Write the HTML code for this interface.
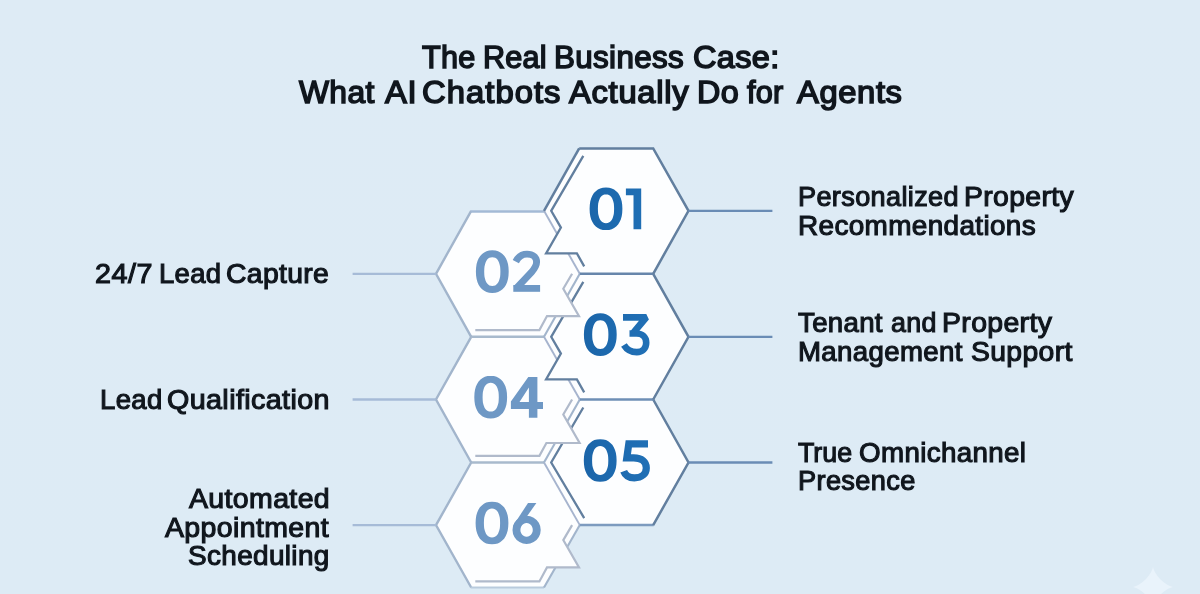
<!DOCTYPE html>
<html><head><meta charset="utf-8"><title>AI Chatbots for Agents</title>
<style>
html,body{margin:0;padding:0;}
body{width:1200px;height:594px;overflow:hidden;position:relative;background:#deebf5;font-family:"Liberation Sans",sans-serif;}
#bg{position:absolute;left:0;top:0;width:1200px;height:594px;background:linear-gradient(180deg,#deebf5 0%,#ddebf5 100%);}
.w{position:absolute;will-change:transform;}
</style></head>
<body>
<div id="bg"></div>
<svg width="1200" height="594" viewBox="0 0 1200 594" style="position:absolute;left:0;top:0">
<defs><linearGradient id="gd" gradientUnits="userSpaceOnUse" x1="585" y1="0" x2="650" y2="0"><stop offset="0" stop-color="#1b65a9"/><stop offset="1" stop-color="#2070b6"/></linearGradient></defs>
<polygon points="579.2,148.4 653.2,148.4 688.5,210.8 653.2,273.8 579.8,273.8 544,210.8" fill="#fdfeff"/>
<polygon points="471.2,210.8 544,210.8 579.8,273.8 544,336.8 471.2,336.8 436,273.8" fill="#fdfeff"/>
<polygon points="579.8,273.8 653.2,273.8 688.5,336.8 653.2,399.5 579.8,399.5 544,336.8" fill="#fdfeff"/>
<polygon points="471.2,336.8 544,336.8 579.8,399.5 544,462.5 471.2,462.5 436,399.5" fill="#fdfeff"/>
<polygon points="579.8,399.5 653.2,399.5 688.5,462.5 653.2,525.1 579.8,525.1 544,462.5" fill="#fdfeff"/>
<polygon points="471.2,462.5 544,462.5 579.8,525.1 544,587.5 471.2,587.5 436,525.1" fill="#fdfeff"/>
<polyline points="471.2,462.5 436,525.1 471.2,587.5" fill="none" stroke="#a2b5cc" stroke-width="2.4" stroke-linejoin="miter" stroke-linecap="butt" />
<polyline points="470.7,462.5 544,462.5" fill="none" stroke="#a8bacd" stroke-width="2.5" stroke-linejoin="miter" stroke-linecap="butt" />
<polyline points="470.7,587.5 544,587.5" fill="none" stroke="#b9cbdd" stroke-width="2.0" stroke-linejoin="miter" stroke-linecap="butt" />
<polyline points="579.8,525.1 544,587.5" fill="none" stroke="#a2b5cc" stroke-width="2.1" stroke-linejoin="miter" stroke-linecap="butt" />
<polygon points="563.3,540.1 579,567.4 547,567.4" fill="#fdfeff"/>
<polyline points="572.1,525.1 563.3,540.1 579,567.4 547,567.4 539.4,581.4 475.3,581.4" fill="none" stroke="#b0bacb" stroke-width="2.2" stroke-linejoin="miter" stroke-linecap="butt" />
<polyline points="544,462.5 579.8,525.1" fill="none" stroke="#a6b4ce" stroke-width="1.9" stroke-linejoin="miter" stroke-linecap="butt" />
<polyline points="579.8,399.5 544,462.5" fill="none" stroke="#a2b5cc" stroke-width="2.1" stroke-linejoin="miter" stroke-linecap="butt" />
<polyline points="653.7,525.1 579.8,525.1" fill="none" stroke="#7d9bbf" stroke-width="2.5" stroke-linejoin="miter" stroke-linecap="butt" />
<polyline points="653.2,399.5 688.5,462.5 653.2,525.1" fill="none" stroke="#627f9f" stroke-width="2.5" stroke-linejoin="miter" stroke-linecap="butt" />
<polyline points="583.3,407.5 551.2,462.5 584.2,518.1" fill="none" stroke="#627f9f" stroke-width="2.3" stroke-linejoin="miter" stroke-linecap="butt" />
<polyline points="471.2,336.8 436,399.5 471.2,462.5" fill="none" stroke="#a2b5cc" stroke-width="2.4" stroke-linejoin="miter" stroke-linecap="butt" />
<polyline points="470.7,336.8 544,336.8" fill="none" stroke="#a8bacd" stroke-width="2.5" stroke-linejoin="miter" stroke-linecap="butt" />
<polygon points="563.3,414.5 579.6,443 546.4,443" fill="#fdfeff"/>
<polyline points="572.1,399.5 563.3,414.5 579.6,443 546.4,443 539.4,455.8 475.3,455.8" fill="none" stroke="#b0bacb" stroke-width="2.2" stroke-linejoin="miter" stroke-linecap="butt" />
<polyline points="544,336.8 579.8,399.5" fill="none" stroke="#a6b4ce" stroke-width="1.9" stroke-linejoin="miter" stroke-linecap="butt" />
<polyline points="579.8,273.8 544,336.8" fill="none" stroke="#a2b5cc" stroke-width="2.1" stroke-linejoin="miter" stroke-linecap="butt" />
<polyline points="653.7,399.5 579.8,399.5" fill="none" stroke="#6e8fb6" stroke-width="2.5" stroke-linejoin="miter" stroke-linecap="butt" />
<polyline points="653.2,273.8 688.5,336.8 653.2,399.5" fill="none" stroke="#627f9f" stroke-width="2.5" stroke-linejoin="miter" stroke-linecap="butt" />
<polygon points="560.9,353.6 546.1,379.4 576.9,379.4" fill="#fdfeff"/>
<polyline points="583.3,281.8 551.2,336.8 560.9,353.6 546.1,379.4 576.9,379.4 584.2,392.4" fill="none" stroke="#627f9f" stroke-width="2.3" stroke-linejoin="miter" stroke-linecap="butt" />
<polyline points="471.2,210.8 436,273.8 471.2,336.8" fill="none" stroke="#a2b5cc" stroke-width="2.4" stroke-linejoin="miter" stroke-linecap="butt" />
<polyline points="470.7,211.5 544,211.5" fill="none" stroke="#a3bad6" stroke-width="2.5" stroke-linejoin="miter" stroke-linecap="butt" />
<polygon points="563.3,288.8 579,316.1 547,316.1" fill="#fdfeff"/>
<polyline points="572.1,273.8 563.3,288.8 579,316.1 547,316.1 539.4,330.1 475.3,330.1" fill="none" stroke="#b0bacb" stroke-width="2.2" stroke-linejoin="miter" stroke-linecap="butt" />
<polyline points="544,210.8 579.8,273.8" fill="none" stroke="#a6b4ce" stroke-width="1.9" stroke-linejoin="miter" stroke-linecap="butt" />
<polyline points="579.2,148.4 544,210.8" fill="none" stroke="#627f9f" stroke-width="2.5" stroke-linejoin="miter" stroke-linecap="butt" />
<polyline points="653.7,273.8 579.8,273.8" fill="none" stroke="#6786ab" stroke-width="2.5" stroke-linejoin="miter" stroke-linecap="butt" />
<polyline points="579.2,148.4 653.2,148.4 688.5,210.8 653.2,273.8" fill="none" stroke="#627f9f" stroke-width="2.5" stroke-linejoin="miter" stroke-linecap="butt" />
<polygon points="560.9,227.6 546.1,253.4 576.9,253.4" fill="#fdfeff"/>
<polyline points="583.3,155.8 551.2,210.8 560.9,227.6 546.1,253.4 576.9,253.4 584.2,266.4" fill="none" stroke="#627f9f" stroke-width="2.3" stroke-linejoin="miter" stroke-linecap="butt" />
<line x1="688.5" y1="210.8" x2="772.4" y2="210.8" stroke="#6a8cb5" stroke-width="2.3"/>
<line x1="688.5" y1="336.8" x2="772.4" y2="336.8" stroke="#6a8cb5" stroke-width="2.3"/>
<line x1="688.5" y1="462.5" x2="772.4" y2="462.5" stroke="#6a8cb5" stroke-width="2.3"/>
<line x1="352.6" y1="273.8" x2="436.0" y2="273.8" stroke="#a6bbd7" stroke-width="2.3"/>
<line x1="352.6" y1="399.5" x2="436.0" y2="399.5" stroke="#a6bbd7" stroke-width="2.3"/>
<line x1="352.6" y1="525.1" x2="436.0" y2="525.1" stroke="#a6bbd7" stroke-width="2.3"/>
<path fill="url(#gd)" fill-rule="evenodd" d="M622.4,208.8 L622.2,212.9 L621.7,216.3 L620.8,219.4 L619.6,222.1 L618.1,224.5 L616.2,226.4 L614.1,228 L611.8,229.2 L609.2,229.9 L606,230.1 L602.8,229.9 L600.2,229.2 L597.9,228 L595.8,226.4 L593.9,224.5 L592.4,222.1 L591.2,219.4 L590.3,216.3 L589.8,212.9 L589.6,208.8 L589.8,204.7 L590.3,201.3 L591.2,198.2 L592.4,195.5 L593.9,193.1 L595.8,191.2 L597.9,189.6 L600.2,188.4 L602.8,187.7 L606,187.5 L609.2,187.7 L611.8,188.4 L614.1,189.6 L616.2,191.2 L618.1,193.1 L619.6,195.5 L620.8,198.2 L621.7,201.3 L622.2,204.7 Z M614,205.9 L613.8,203.6 L613.3,201.6 L612.7,199.7 L612,198.1 L611.1,196.8 L610.1,195.8 L608.9,195 L607.6,194.6 L606,194.4 L604.4,194.6 L603.1,195 L601.9,195.8 L600.9,196.8 L600,198.1 L599.3,199.7 L598.7,201.6 L598.2,203.6 L598,205.9 L597.9,208.8 L598,211.7 L598.2,214 L598.7,216 L599.3,217.9 L600,219.5 L600.9,220.8 L601.9,221.8 L603.1,222.6 L604.4,223 L606,223.2 L607.6,223 L608.9,222.6 L610.1,221.8 L611.1,220.8 L612,219.5 L612.7,217.9 L613.3,216 L613.8,214 L614,211.7 L614.1,208.8 Z"/>
<polygon fill="url(#gd)" points="625.9,188.5 641.2,188.5 641.2,229.3 633.5,229.3 633.5,195.3 625.9,195.3"/>
<path fill="#6e98c5" fill-rule="evenodd" d="M508.7,271.6 L508.5,275.7 L508,279.1 L507.1,282.2 L505.9,284.9 L504.4,287.3 L502.5,289.2 L500.4,290.8 L498.1,292 L495.5,292.7 L492.3,292.9 L489.1,292.7 L486.5,292 L484.2,290.8 L482.1,289.2 L480.2,287.3 L478.7,284.9 L477.5,282.2 L476.6,279.1 L476.1,275.7 L475.9,271.6 L476.1,267.5 L476.6,264.1 L477.5,261 L478.7,258.3 L480.2,255.9 L482.1,254 L484.2,252.4 L486.5,251.2 L489.1,250.5 L492.3,250.3 L495.5,250.5 L498.1,251.2 L500.4,252.4 L502.5,254 L504.4,255.9 L505.9,258.3 L507.1,261 L508,264.1 L508.5,267.5 Z M500.3,268.7 L500.1,266.4 L499.6,264.4 L499,262.5 L498.3,260.9 L497.4,259.6 L496.4,258.6 L495.2,257.8 L493.9,257.4 L492.3,257.2 L490.7,257.4 L489.4,257.8 L488.2,258.6 L487.2,259.6 L486.3,260.9 L485.6,262.5 L485,264.4 L484.5,266.4 L484.3,268.7 L484.2,271.6 L484.3,274.5 L484.5,276.8 L485,278.8 L485.6,280.7 L486.3,282.3 L487.2,283.6 L488.2,284.6 L489.4,285.4 L490.7,285.8 L492.3,286 L493.9,285.8 L495.2,285.4 L496.4,284.6 L497.4,283.6 L498.3,282.3 L499,280.7 L499.6,278.8 L500.1,276.8 L500.3,274.5 L500.4,271.6 Z"/>
<path d="M515.8,261.6 C518.1,257 522,254.1 527,254.1 C533,254.1 536.6,257.4 536.6,262 C536.6,265.8 534.8,268.4 531.3,272.5 L516,288.6" fill="none" stroke="#6e98c5" stroke-width="6.9"/><rect x="513.3" y="285" width="26.8" height="6.8" fill="#6e98c5"/>
<path fill="url(#gd)" fill-rule="evenodd" d="M616.7,334.6 L616.5,338.7 L616,342.1 L615.1,345.2 L613.9,347.9 L612.4,350.3 L610.5,352.2 L608.4,353.8 L606.1,355 L603.5,355.7 L600.3,355.9 L597.1,355.7 L594.5,355 L592.2,353.8 L590.1,352.2 L588.2,350.3 L586.7,347.9 L585.5,345.2 L584.6,342.1 L584.1,338.7 L583.9,334.6 L584.1,330.5 L584.6,327.1 L585.5,324 L586.7,321.3 L588.2,318.9 L590.1,317 L592.2,315.4 L594.5,314.2 L597.1,313.5 L600.3,313.3 L603.5,313.5 L606.1,314.2 L608.4,315.4 L610.5,317 L612.4,318.9 L613.9,321.3 L615.1,324 L616,327.1 L616.5,330.5 Z M608.3,331.7 L608.1,329.4 L607.6,327.4 L607,325.5 L606.3,323.9 L605.4,322.6 L604.4,321.6 L603.2,320.8 L601.9,320.4 L600.3,320.2 L598.7,320.4 L597.4,320.8 L596.2,321.6 L595.2,322.6 L594.3,323.9 L593.6,325.5 L593,327.4 L592.5,329.4 L592.3,331.7 L592.2,334.6 L592.3,337.5 L592.5,339.8 L593,341.8 L593.6,343.7 L594.3,345.3 L595.2,346.6 L596.2,347.6 L597.4,348.4 L598.7,348.8 L600.3,349 L601.9,348.8 L603.2,348.4 L604.4,347.6 L605.4,346.6 L606.3,345.3 L607,343.7 L607.6,341.8 L608.1,339.8 L608.3,337.5 L608.4,334.6 Z"/>
<path d="M623,317.3 L646.3,317.3 L633.5,332.6" fill="none" stroke="url(#gd)" stroke-width="6.8" stroke-linejoin="bevel"/><path d="M629.5,333.5 L636.5,333.5 C642.5,333.5 646.2,337.5 646.2,342.7 C646.2,348.5 642.2,352.1 636.8,352.1 C631.3,352.1 626.8,349.6 623.9,344.9" fill="none" stroke="url(#gd)" stroke-width="6.6"/>
<path fill="#6e98c5" fill-rule="evenodd" d="M507.1,397.2 L506.9,401.3 L506.4,404.7 L505.5,407.8 L504.3,410.5 L502.8,412.9 L500.9,414.8 L498.8,416.4 L496.5,417.6 L493.9,418.3 L490.7,418.5 L487.5,418.3 L484.9,417.6 L482.6,416.4 L480.5,414.8 L478.6,412.9 L477.1,410.5 L475.9,407.8 L475,404.7 L474.5,401.3 L474.3,397.2 L474.5,393.1 L475,389.7 L475.9,386.6 L477.1,383.9 L478.6,381.5 L480.5,379.6 L482.6,378 L484.9,376.8 L487.5,376.1 L490.7,375.9 L493.9,376.1 L496.5,376.8 L498.8,378 L500.9,379.6 L502.8,381.5 L504.3,383.9 L505.5,386.6 L506.4,389.7 L506.9,393.1 Z M498.7,394.3 L498.5,392 L498,390 L497.4,388.1 L496.7,386.5 L495.8,385.2 L494.8,384.2 L493.6,383.4 L492.3,383 L490.7,382.8 L489.1,383 L487.8,383.4 L486.6,384.2 L485.6,385.2 L484.7,386.5 L484,388.1 L483.4,390 L482.9,392 L482.7,394.3 L482.6,397.2 L482.7,400.1 L482.9,402.4 L483.4,404.4 L484,406.3 L484.7,407.9 L485.6,409.2 L486.6,410.2 L487.8,411 L489.1,411.4 L490.7,411.6 L492.3,411.4 L493.6,411 L494.8,410.2 L495.8,409.2 L496.7,407.9 L497.4,406.3 L498,404.4 L498.5,402.4 L498.7,400.1 L498.8,397.2 Z"/>
<path d="M537.4,376.9 L528.3,376.9 L510.9,401.5 L510.9,408.9 L528.9,408.9 L528.9,417.8 L537.4,417.8 L537.4,408.9 L543,408.9 L543,401.9 L537.4,401.9 Z M528.9,387.4 L519.5,401.9 L528.9,401.9 Z" fill="#6e98c5" fill-rule="evenodd"/>
<path fill="url(#gd)" fill-rule="evenodd" d="M616.6,460.5 L616.4,464.6 L615.9,468 L615,471.1 L613.8,473.8 L612.3,476.2 L610.4,478.1 L608.3,479.7 L606,480.9 L603.4,481.6 L600.2,481.8 L597,481.6 L594.4,480.9 L592.1,479.7 L590,478.1 L588.1,476.2 L586.6,473.8 L585.4,471.1 L584.5,468 L584,464.6 L583.8,460.5 L584,456.4 L584.5,453 L585.4,449.9 L586.6,447.2 L588.1,444.8 L590,442.9 L592.1,441.3 L594.4,440.1 L597,439.4 L600.2,439.2 L603.4,439.4 L606,440.1 L608.3,441.3 L610.4,442.9 L612.3,444.8 L613.8,447.2 L615,449.9 L615.9,453 L616.4,456.4 Z M608.2,457.6 L608,455.3 L607.5,453.3 L606.9,451.4 L606.2,449.8 L605.3,448.5 L604.3,447.5 L603.1,446.7 L601.8,446.3 L600.2,446.1 L598.6,446.3 L597.3,446.7 L596.1,447.5 L595.1,448.5 L594.2,449.8 L593.5,451.4 L592.9,453.3 L592.4,455.3 L592.2,457.6 L592.1,460.5 L592.2,463.4 L592.4,465.7 L592.9,467.7 L593.5,469.6 L594.2,471.2 L595.1,472.5 L596.1,473.5 L597.3,474.3 L598.6,474.7 L600.2,474.9 L601.8,474.7 L603.1,474.3 L604.3,473.5 L605.3,472.5 L606.2,471.2 L606.9,469.6 L607.5,467.7 L608,465.7 L608.2,463.4 L608.3,460.5 Z"/>
<path d="M648,443.8 L628.8,443.8 L626.8,457.9 L633.7,457.9 C642,457.9 646.3,462.3 646.3,467.9 C646.3,473.9 641.6,477.8 634.4,477.8 C629.2,477.8 625.4,475.8 623.7,471.2" fill="none" stroke="url(#gd)" stroke-width="7.2" stroke-linejoin="miter" stroke-miterlimit="10"/>
<path fill="#6e98c5" fill-rule="evenodd" d="M508.4,523 L508.2,527.1 L507.7,530.5 L506.8,533.6 L505.6,536.3 L504.1,538.7 L502.2,540.6 L500.1,542.2 L497.8,543.4 L495.2,544.1 L492,544.3 L488.8,544.1 L486.2,543.4 L483.9,542.2 L481.8,540.6 L479.9,538.7 L478.4,536.3 L477.2,533.6 L476.3,530.5 L475.8,527.1 L475.6,523 L475.8,518.9 L476.3,515.5 L477.2,512.4 L478.4,509.7 L479.9,507.3 L481.8,505.4 L483.9,503.8 L486.2,502.6 L488.8,501.9 L492,501.7 L495.2,501.9 L497.8,502.6 L500.1,503.8 L502.2,505.4 L504.1,507.3 L505.6,509.7 L506.8,512.4 L507.7,515.5 L508.2,518.9 Z M500,520.1 L499.8,517.8 L499.3,515.8 L498.7,513.9 L498,512.3 L497.1,511 L496.1,510 L494.9,509.2 L493.6,508.8 L492,508.6 L490.4,508.8 L489.1,509.2 L487.9,510 L486.9,511 L486,512.3 L485.3,513.9 L484.7,515.8 L484.2,517.8 L484,520.1 L483.9,523 L484,525.9 L484.2,528.2 L484.7,530.2 L485.3,532.1 L486,533.7 L486.9,535 L487.9,536 L489.1,536.8 L490.4,537.2 L492,537.4 L493.6,537.2 L494.9,536.8 L496.1,536 L497.1,535 L498,533.7 L498.7,532.1 L499.3,530.2 L499.8,528.2 L500,525.9 L500.1,523 Z"/>
<path d="M526.6,515.8 a14.1,14.1 0 1 0 0.01,0 Z M526.6,523.1 a6.2,6.8 0 1 1 -0.01,0 Z" fill="#6e98c5" fill-rule="evenodd"/><polygon fill="#6e98c5" points="528,503 536.4,503 521.9,523.4 513,525.9"/>
<polygon points="1173.3,587 1172.8,587.1 1171.4,587.4 1169.2,588.3 1166.5,589.8 1163.5,591.9 1160.5,594.5 1157.9,597.5 1155.8,600.5 1154.3,603.2 1153.4,605.4 1153.1,606.8 1153,607.3 1152.9,606.8 1152.6,605.4 1151.7,603.2 1150.2,600.5 1148.1,597.5 1145.5,594.5 1142.5,591.9 1139.5,589.8 1136.8,588.3 1134.6,587.4 1133.2,587.1 1132.7,587 1133.2,586.9 1134.6,586.6 1136.8,585.7 1139.5,584.2 1142.5,582.1 1145.5,579.5 1148.1,576.5 1150.2,573.5 1151.7,570.8 1152.6,568.6 1152.9,567.2 1153,566.7 1153.1,567.2 1153.4,568.6 1154.3,570.8 1155.8,573.5 1157.9,576.5 1160.5,579.5 1163.5,582.1 1166.5,584.2 1169.2,585.7 1171.4,586.6 1172.8,586.9" fill="#e9f3fb"/>
</svg>
<div class="w" style="left:421.70px;top:42.00px;font-size:30.6px;line-height:30.6px;font-weight:normal;letter-spacing:0.250px;white-space:nowrap;color:#10161d;-webkit-text-stroke:1.5px #10161d;">The</div>
<div class="w" style="left:482.95px;top:42.00px;font-size:30.6px;line-height:30.6px;font-weight:normal;letter-spacing:0.183px;white-space:nowrap;color:#10161d;-webkit-text-stroke:1.5px #10161d;">Real</div>
<div class="w" style="left:554.01px;top:42.00px;transform:scaleX(1.0245);transform-origin:0 0;font-size:30.6px;line-height:30.6px;font-weight:normal;letter-spacing:0.350px;white-space:nowrap;color:#10161d;-webkit-text-stroke:1.5px #10161d;">Business</div>
<div class="w" style="left:692.50px;top:42.00px;transform:scaleX(1.0604);transform-origin:0 0;font-size:30.6px;line-height:30.6px;font-weight:normal;letter-spacing:0.350px;white-space:nowrap;color:#10161d;-webkit-text-stroke:1.5px #10161d;">Case:</div>
<div class="w" style="left:299.08px;top:77.00px;transform:scaleX(1.0393);transform-origin:0 0;font-size:30.6px;line-height:30.6px;font-weight:normal;letter-spacing:0.350px;white-space:nowrap;color:#10161d;-webkit-text-stroke:1.5px #10161d;">What</div>
<div class="w" style="left:384.77px;top:77.00px;transform:scaleX(1.0700);transform-origin:0 0;font-size:30.6px;line-height:30.6px;font-weight:normal;letter-spacing:0.568px;white-space:nowrap;color:#10161d;-webkit-text-stroke:1.5px #10161d;">AI</div>
<div class="w" style="left:421.70px;top:77.00px;transform:scaleX(1.0700);transform-origin:0 0;font-size:30.6px;line-height:30.6px;font-weight:normal;letter-spacing:0.996px;white-space:nowrap;color:#10161d;-webkit-text-stroke:1.5px #10161d;">Chatbots</div>
<div class="w" style="left:569.07px;top:77.00px;transform:scaleX(1.0700);transform-origin:0 0;font-size:30.6px;line-height:30.6px;font-weight:normal;letter-spacing:0.664px;white-space:nowrap;color:#10161d;-webkit-text-stroke:1.5px #10161d;">Actually</div>
<div class="w" style="left:696.95px;top:77.00px;transform:scaleX(1.0566);transform-origin:0 0;font-size:30.6px;line-height:30.6px;font-weight:normal;letter-spacing:0.350px;white-space:nowrap;color:#10161d;-webkit-text-stroke:1.5px #10161d;">Do</div>
<div class="w" style="left:747.45px;top:77.00px;font-size:30.6px;line-height:30.6px;font-weight:normal;letter-spacing:0.275px;white-space:nowrap;color:#10161d;-webkit-text-stroke:1.5px #10161d;">for</div>
<div class="w" style="left:797.37px;top:77.00px;transform:scaleX(1.0700);transform-origin:0 0;font-size:30.6px;line-height:30.6px;font-weight:normal;letter-spacing:0.570px;white-space:nowrap;color:#10161d;-webkit-text-stroke:1.5px #10161d;">Agents</div>
<div class="w" style="left:797.63px;top:184.00px;transform:scaleX(1.0112);transform-origin:0 0;font-size:26.8px;line-height:26.8px;font-weight:normal;letter-spacing:0.350px;white-space:nowrap;color:#10161d;-webkit-text-stroke:1.1px #10161d;">Personalized</div>
<div class="w" style="left:964.25px;top:184.00px;transform:scaleX(1.0574);transform-origin:0 0;font-size:26.8px;line-height:26.8px;font-weight:normal;letter-spacing:0.350px;white-space:nowrap;color:#10161d;-webkit-text-stroke:1.1px #10161d;">Property</div>
<div class="w" style="left:797.68px;top:213.00px;transform:scaleX(1.0409);transform-origin:0 0;font-size:26.8px;line-height:26.8px;font-weight:normal;letter-spacing:0.350px;white-space:nowrap;color:#10161d;-webkit-text-stroke:1.1px #10161d;">Recommendations</div>
<div class="w" style="left:798.20px;top:310.00px;transform:scaleX(1.0279);transform-origin:0 0;font-size:26.8px;line-height:26.8px;font-weight:normal;letter-spacing:0.350px;white-space:nowrap;color:#10161d;-webkit-text-stroke:1.1px #10161d;">Tenant</div>
<div class="w" style="left:890.70px;top:310.00px;transform:scaleX(1.0023);transform-origin:0 0;font-size:26.8px;line-height:26.8px;font-weight:normal;letter-spacing:0.350px;white-space:nowrap;color:#10161d;-webkit-text-stroke:1.1px #10161d;">and</div>
<div class="w" style="left:941.85px;top:310.00px;transform:scaleX(1.0594);transform-origin:0 0;font-size:26.8px;line-height:26.8px;font-weight:normal;letter-spacing:0.350px;white-space:nowrap;color:#10161d;-webkit-text-stroke:1.1px #10161d;">Property</div>
<div class="w" style="left:797.70px;top:339.00px;transform:scaleX(1.0307);transform-origin:0 0;font-size:26.8px;line-height:26.8px;font-weight:normal;letter-spacing:0.350px;white-space:nowrap;color:#10161d;-webkit-text-stroke:1.1px #10161d;">Management</div>
<div class="w" style="left:970.91px;top:339.00px;transform:scaleX(1.0554);transform-origin:0 0;font-size:26.8px;line-height:26.8px;font-weight:normal;letter-spacing:0.350px;white-space:nowrap;color:#10161d;-webkit-text-stroke:1.1px #10161d;">Support</div>
<div class="w" style="left:798.20px;top:440.00px;font-size:26.8px;line-height:26.8px;font-weight:normal;letter-spacing:0.000px;white-space:nowrap;color:#10161d;-webkit-text-stroke:1.1px #10161d;">True</div>
<div class="w" style="left:859.22px;top:440.00px;transform:scaleX(1.0345);transform-origin:0 0;font-size:26.8px;line-height:26.8px;font-weight:normal;letter-spacing:0.350px;white-space:nowrap;color:#10161d;-webkit-text-stroke:1.1px #10161d;">Omnichannel</div>
<div class="w" style="left:797.73px;top:468.00px;transform:scaleX(1.0141);transform-origin:0 0;font-size:26.8px;line-height:26.8px;font-weight:normal;letter-spacing:0.350px;white-space:nowrap;color:#10161d;-webkit-text-stroke:1.1px #10161d;">Presence</div>
<div class="w" style="left:95.00px;top:261.00px;transform:scaleX(1.0700);transform-origin:0 0;font-size:26.8px;line-height:26.8px;font-weight:normal;letter-spacing:0.519px;white-space:nowrap;color:#10161d;-webkit-text-stroke:1.1px #10161d;">24/7</div>
<div class="w" style="left:158.71px;top:261.00px;transform:scaleX(1.0242);transform-origin:0 0;font-size:26.8px;line-height:26.8px;font-weight:normal;letter-spacing:0.350px;white-space:nowrap;color:#10161d;-webkit-text-stroke:1.1px #10161d;">Lead</div>
<div class="w" style="left:226.41px;top:261.00px;transform:scaleX(1.0552);transform-origin:0 0;font-size:26.8px;line-height:26.8px;font-weight:normal;letter-spacing:0.350px;white-space:nowrap;color:#10161d;-webkit-text-stroke:1.1px #10161d;">Capture</div>
<div class="w" style="left:99.80px;top:387.00px;transform:scaleX(1.0260);transform-origin:0 0;font-size:26.8px;line-height:26.8px;font-weight:normal;letter-spacing:0.350px;white-space:nowrap;color:#10161d;-webkit-text-stroke:1.1px #10161d;">Lead</div>
<div class="w" style="left:167.40px;top:387.00px;transform:scaleX(1.0700);transform-origin:0 0;font-size:26.8px;line-height:26.8px;font-weight:normal;letter-spacing:0.367px;white-space:nowrap;color:#10161d;-webkit-text-stroke:1.1px #10161d;">Qualification</div>
<div class="w" style="left:189.10px;top:486.00px;transform:scaleX(1.0625);transform-origin:0 0;font-size:26.8px;line-height:26.8px;font-weight:normal;letter-spacing:0.350px;white-space:nowrap;color:#10161d;-webkit-text-stroke:1.1px #10161d;">Automated</div>
<div class="w" style="left:164.70px;top:515.00px;transform:scaleX(1.0626);transform-origin:0 0;font-size:26.8px;line-height:26.8px;font-weight:normal;letter-spacing:0.350px;white-space:nowrap;color:#10161d;-webkit-text-stroke:1.1px #10161d;">Appointment</div>
<div class="w" style="left:188.42px;top:543.00px;transform:scaleX(1.0411);transform-origin:0 0;font-size:26.8px;line-height:26.8px;font-weight:normal;letter-spacing:0.350px;white-space:nowrap;color:#10161d;-webkit-text-stroke:1.1px #10161d;">Scheduling</div>
</body></html>
